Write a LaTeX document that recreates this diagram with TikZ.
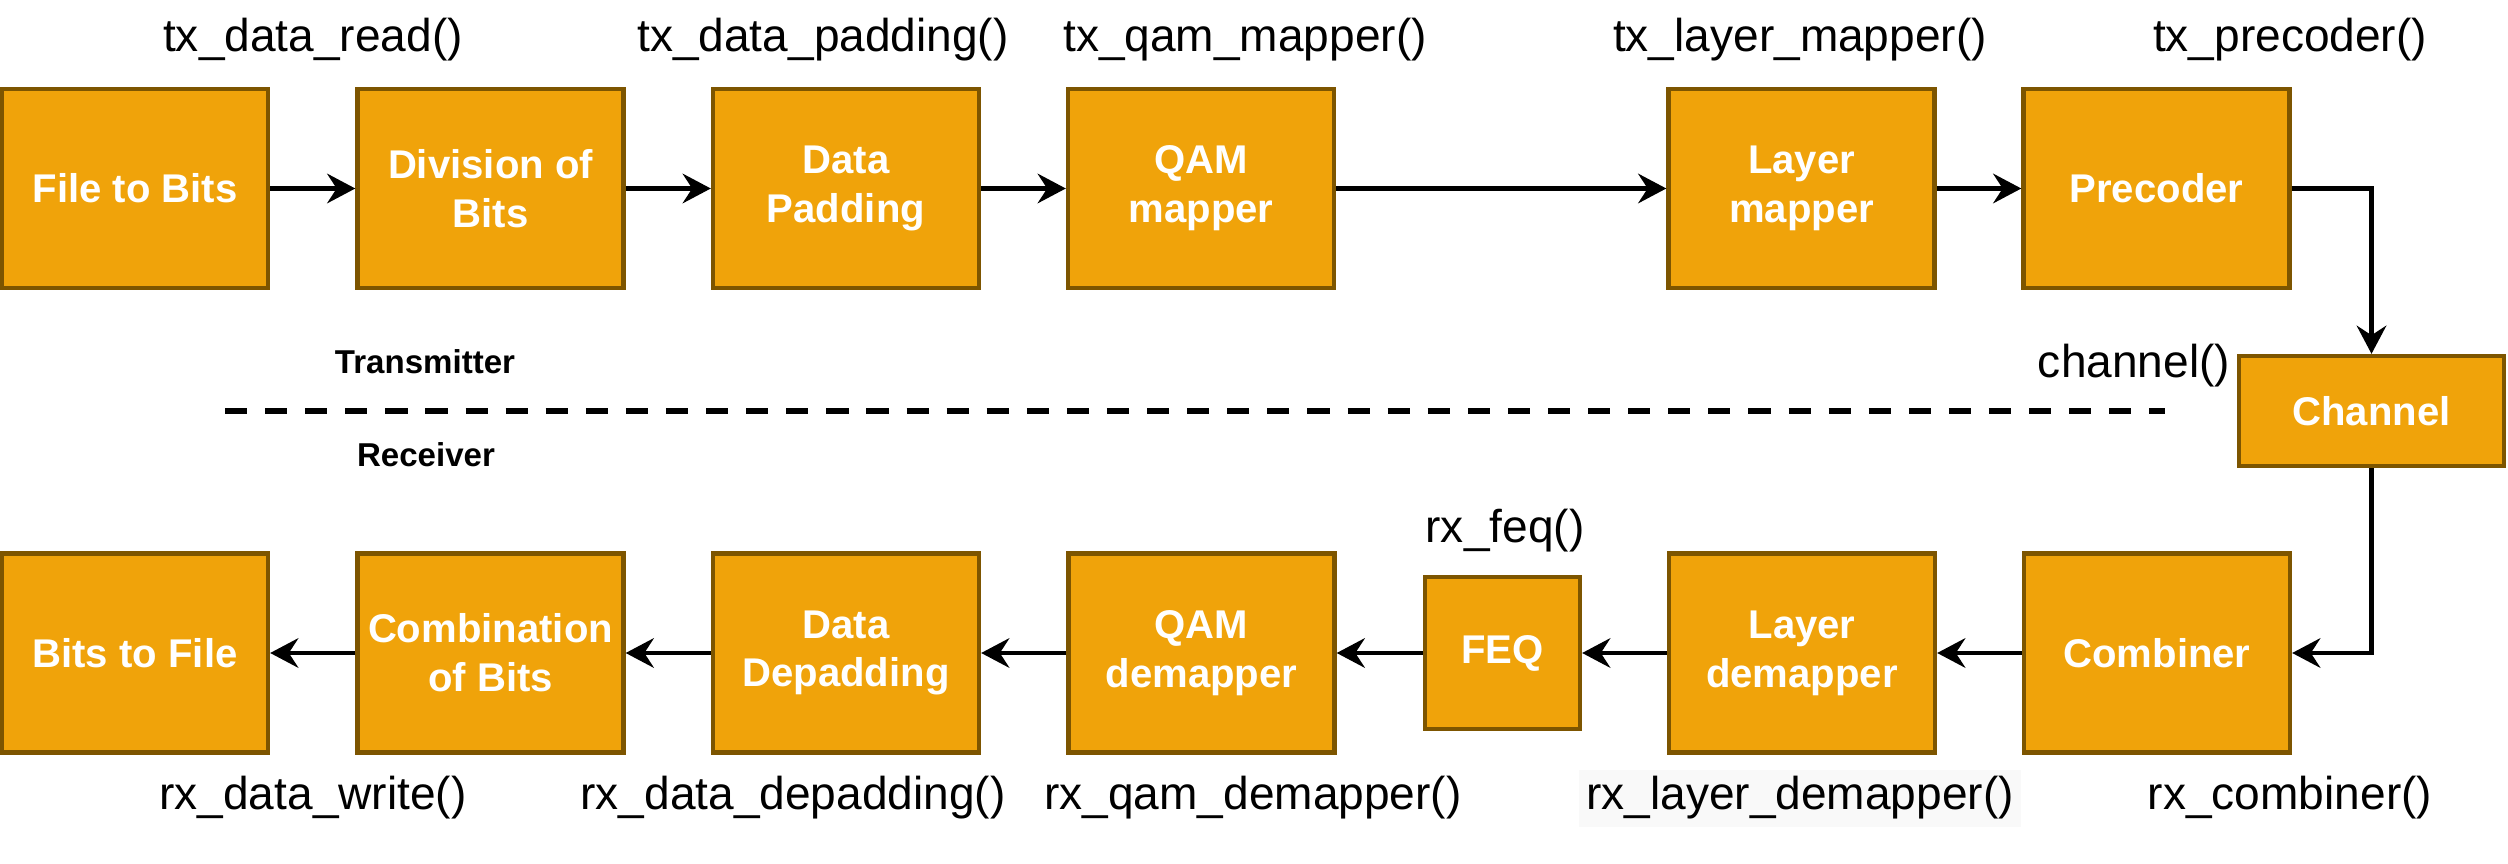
\documentclass[tikz,border=0pt]{standalone}
\usepackage{fontspec}
\setmainfont{Liberation Sans}
\usetikzlibrary{arrows.meta}
\definecolor{boxfill}{HTML}{F0A30A}
\definecolor{boxline}{HTML}{7D5500}
\definecolor{lblbg}{HTML}{F9F9F9}
\begin{document}
\begin{tikzpicture}[x=0.01cm,y=-0.01cm,
  block/.style={draw=boxline, fill=boxfill, line width=1.2pt, text=white,
    font=\fontsize{11.4}{13.9}\selectfont\bfseries, align=center, inner sep=0pt,
    minimum width=2.66cm, minimum height=1.99cm},
  fn/.style={font=\fontsize{13.1}{15.7}\selectfont, anchor=base, inner sep=0pt},
  side/.style={font=\fontsize{9.4}{11}\selectfont\bfseries, anchor=base, inner sep=0pt},
  arr/.style={line width=1.3pt, -{Stealth[length=8pt,width=8.4pt,inset=2.7pt]}},
]
\useasboundingbox (0,0) rectangle (2508,864);

% transmitter row
\node[block] (ftb)  at (135,188.5)  {File to Bits};
\node[block] (div)  at (490.5,188.5) {Division of\\Bits};
\node[block] (pad)  at (846,188.5)  {Data\\Padding};
\node[block] (qam)  at (1201,188.5) {QAM\\mapper};
\node[block] (lay)  at (1801.5,188.5) {Layer\\mapper};
\node[block] (prec) at (2156.5,188.5) {Precoder};

% channel
\node[block, minimum width=2.65cm, minimum height=1.10cm] (chan) at (2371.5,411) {Channel};

% receiver row
\node[block] (btf)  at (135,653)    {Bits to File};
\node[block] (comb) at (490.5,653)  {Combination\\of Bits};
\node[block] (dep)  at (846,653)    {Data\\Depadding};
\node[block] (qamd) at (1201.5,653) {QAM\\demapper};
\node[block, minimum width=1.55cm, minimum height=1.52cm] (feq) at (1502.5,653) {FEQ};
\node[block] (layd) at (1802,653)   {Layer\\demapper};
\node[block] (cmb)  at (2157,653)   {Combiner};

% function labels
\node[fn] (l1) at (313,52)  {tx\_data\_read()};
\node[fn] (l2) at (823,52)  {tx\_data\_padding()};
\node[fn] (l3) at (1245,52) {tx\_qam\_mapper()};
\node[fn] (l4) at (1800,52) {tx\_layer\_mapper()};
\node[fn] (l5) at (2290,52) {tx\_precoder()};
\node[fn] (l6) at (2134,378) {channel()};
\node[fn] (l7) at (1505,543) {rx\_feq()};
\node[fn] (l8) at (313,810)  {rx\_data\_write()};
\node[fn] (l9) at (793,810)  {rx\_data\_depadding()};
\node[fn] (l10) at (1253,810) {rx\_qam\_demapper()};
\node[fn, fill=lblbg, inner sep=2pt] (l11) at (1800,810) {rx\_layer\_demapper()};
\node[fn] (l12) at (2290,810) {rx\_combiner()};

% transmitter / receiver separator
\node[side] (tx) at (425,374) {Transmitter};
\node[side] (rx) at (426,467) {Receiver};
\coordinate (dl) at (225,411);
\coordinate (dr) at (2165,411);
\draw[line width=1.6pt, dash pattern=on 6.3pt off 5.1pt] (dl) -- (dr);

% connectors
\draw[arr] (ftb) -- (div);
\draw[arr] (div) -- (pad);
\draw[arr] (pad) -- (qam);
\draw[arr] (qam) -- (lay);
\draw[arr] (lay) -- (prec);
\draw[arr] (prec.east) -| (chan.north);
\draw[arr] (chan.south) |- (cmb.east);
\draw[arr] (cmb) -- (layd);
\draw[arr] (layd) -- (feq);
\draw[arr] (feq) -- (qamd);
\draw[arr] (qamd) -- (dep);
\draw[arr] (dep) -- (comb);
\draw[arr] (comb) -- (btf);
\end{tikzpicture}
\end{document}
